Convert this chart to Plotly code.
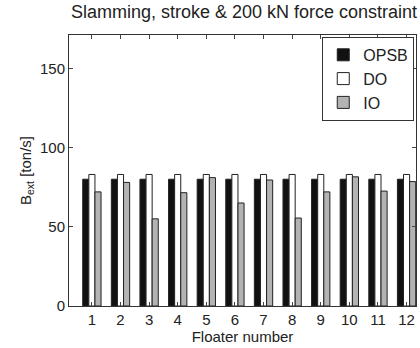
import plotly.graph_objects as go

floaters = [str(i) for i in range(1, 13)]
opsb = [80, 80, 80, 80, 80, 80, 80, 80, 80, 80, 80, 80]
do = [83, 83, 83, 83, 83, 83, 83, 83, 83, 83, 83, 83]
io = [72, 78, 55, 71.5, 81, 65, 79.5, 55.5, 72, 81.5, 72.5, 78.5]

xs = list(range(1, 13))
fig = go.Figure()
line = dict(color="#222222", width=1)
fig.add_bar(x=xs, y=opsb, name="OPSB", marker=dict(color="#111111", line=line))
fig.add_bar(x=xs, y=do, name="DO", marker=dict(color="#ffffff", line=line))
fig.add_bar(x=xs, y=io, name="IO", marker=dict(color="#b3b3b3", line=line))

fig.update_layout(
    width=420, height=348,
    margin=dict(l=69, r=4, t=35, b=42),
    paper_bgcolor="white", plot_bgcolor="white",
    barmode="group", bargap=0.36, bargroupgap=0,
    font=dict(family="Liberation Sans, Arial", size=15, color="#222222"),
    title=dict(text="Slamming, stroke & 200 kN force constraint", x=0.581, xanchor="center",
               y=0.985, yanchor="top", font=dict(size=18)),
    legend=dict(x=0.995, y=0.993, xanchor="right", yanchor="top",
                bordercolor="#333333", borderwidth=1, bgcolor="white",
                font=dict(size=16), tracegroupgap=0, itemwidth=30),
    showlegend=True,
)
fig.update_xaxes(range=[0.2, 12.33], tickmode="array", tickvals=xs, ticktext=floaters,
                 ticks="inside", ticklen=4, mirror="ticks", showline=True,
                 linecolor="#333333", linewidth=1, showgrid=False, tickfont=dict(size=15),
                 title=dict(text="Floater number", standoff=0, font=dict(size=15)))
fig.update_yaxes(range=[0, 171], tickvals=[0, 50, 100, 150], ticks="inside", ticklen=4,
                 mirror="ticks", showline=True, linecolor="#333333", linewidth=1,
                 showgrid=False, zeroline=False, tickfont=dict(size=15),
                 title=dict(text="B<sub>ext</sub> [ton/s]", standoff=4, font=dict(size=15)))
fig.write_html("out.html")
